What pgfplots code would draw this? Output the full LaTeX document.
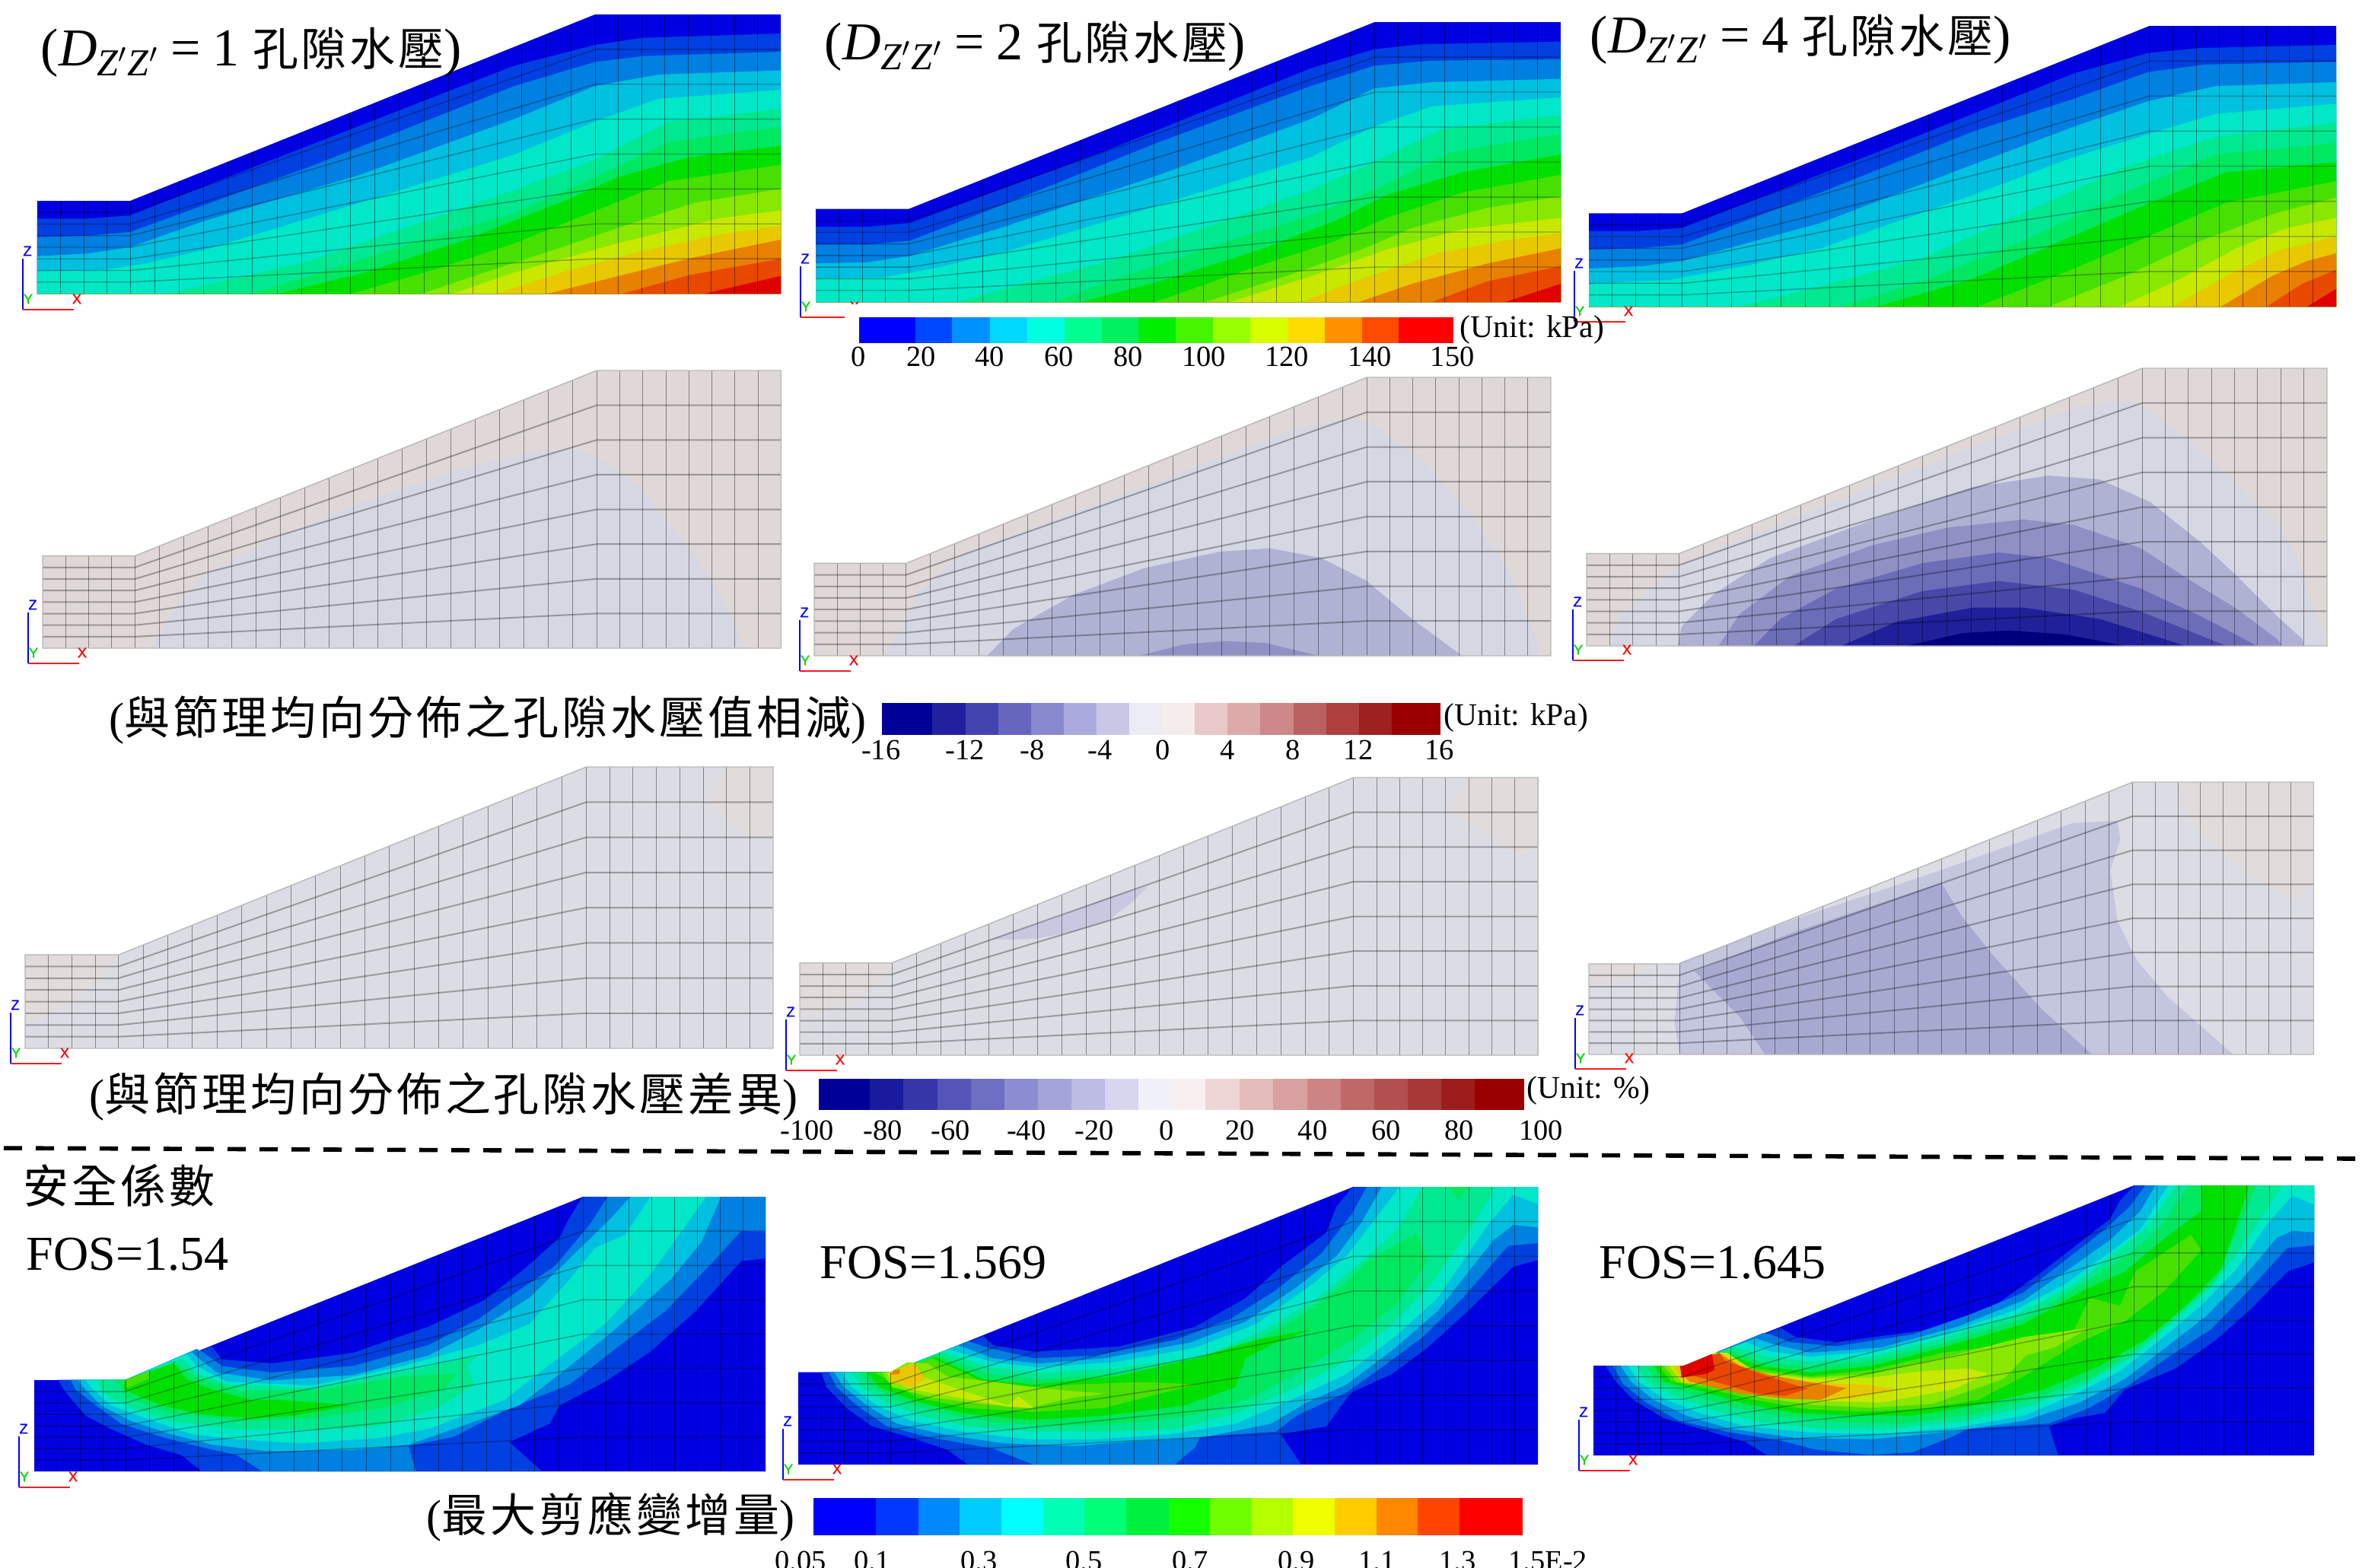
\documentclass[border=0pt]{standalone}
\usepackage{fontspec}
\usepackage{pgfplots}
\pgfplotsset{compat=1.18}
\setmainfont{Liberation Serif}
\newfontfamily\cjk{Noto Sans CJK TC}[LetterSpace=6.5]
\newfontfamily\triadfont{Liberation Sans}[FakeBold=1]
\newcommand\fs[1]{\fontsize{#1}{#1}\selectfont}
\newcommand\ttl[1]{{\fs{17.5}(\textit{D}\raisebox{-3.2pt}{\fs{12.5}\textit{Z}$'$\textit{Z}$'$}\hspace{4pt}=\hspace{4pt}#1{\cjk\fs{15} 孔隙水壓})}}
% band colours of the contour panels
\definecolor{c0}{HTML}{0000E0}\definecolor{c1}{HTML}{0040E0}\definecolor{c2}{HTML}{0080E0}
\definecolor{c3}{HTML}{00C0E0}\definecolor{c4}{HTML}{00E8C8}\definecolor{c5}{HTML}{00E890}
\definecolor{c6}{HTML}{00E860}\definecolor{c7}{HTML}{00E000}\definecolor{c8}{HTML}{48E000}
\definecolor{c9}{HTML}{88E800}\definecolor{c10}{HTML}{C8E800}\definecolor{c11}{HTML}{E8C800}
\definecolor{c12}{HTML}{E88000}\definecolor{c13}{HTML}{E84800}\definecolor{c14}{HTML}{E00000}
\definecolor{beige}{HTML}{E0D7D7}\definecolor{t1}{HTML}{D5D7E3}\definecolor{t2}{HTML}{B0B2D3}
\definecolor{t3}{HTML}{9090C4}\definecolor{t4}{HTML}{6C6DB8}\definecolor{t5}{HTML}{4848A8}
\definecolor{t6}{HTML}{20209A}\definecolor{t7}{HTML}{00007F}\definecolor{g0}{HTML}{DCDDE4}
\definecolor{g1}{HTML}{C4C6DE}\definecolor{g2}{HTML}{A8A9D0}\definecolor{g3}{HTML}{C8C9E0}
\definecolor{bl}{HTML}{E1DBDB}
\pgfplotstableread{
x y
0 15.25
122 15.25
733 45.9
977 45.9
nan nan
0 30.5
122 30.5
733 91.75
977 91.75
nan nan
0 45.75
122 45.75
733 137.6
977 137.6
nan nan
0 61
122 61
733 183.5
977 183.5
nan nan
0 76.25
122 76.25
733 229.4
977 229.4
nan nan
0 91.5
122 91.5
733 275.25
977 275.25
nan nan
0 106.75
122 106.75
733 321.1
977 321.1
}\meshH
\pgfplotstableread{
x y
30.5 0
30.5 122
nan nan
61 0
61 122
nan nan
91.5 0
91.5 122
nan nan
122 0
122 122
nan nan
154.2 0
154.2 134.9
nan nan
186.3 0
186.3 147.8
nan nan
218.5 0
218.5 160.7
nan nan
250.6 0
250.6 173.6
nan nan
282.8 0
282.8 186.5
nan nan
315 0
315 199.4
nan nan
347.1 0
347.1 212.3
nan nan
379.3 0
379.3 225.2
nan nan
411.4 0
411.4 238.1
nan nan
443.6 0
443.6 251
nan nan
475.8 0
475.8 263.9
nan nan
507.9 0
507.9 276.8
nan nan
540.1 0
540.1 289.7
nan nan
572.2 0
572.2 302.6
nan nan
604.4 0
604.4 315.5
nan nan
636.6 0
636.6 328.4
nan nan
668.7 0
668.7 341.3
nan nan
700.9 0
700.9 354.1
nan nan
733 0
733 367
nan nan
763.5 0
763.5 367
nan nan
794 0
794 367
nan nan
824.5 0
824.5 367
nan nan
855 0
855 367
nan nan
885.5 0
885.5 367
nan nan
916 0
916 367
nan nan
946.5 0
946.5 367
}\meshV
\newcommand\setpanel[8]{%
  \pgfmathsetmacro\pW{(#3-#1)*0.25}\pgfmathsetmacro\pH{(#4-#2)*0.25}%
  \pgfmathsetmacro\pX{#1*0.25}\pgfmathsetmacro\pY{-#2*0.25}%
  \def\zL{#5}\def\zR{#6}\def\zT{#7}\def\zB{#8}}
\pgfplotsset{
  box/.style={at={(\pX pt,\pY pt)},anchor=north west,scale only axis,width=\pW pt,height=\pH pt,clip=false},
  panel/.style={box,hide axis,xmin=\zL,xmax=\zR,ymin=\zT,ymax=\zB,y dir=reverse},
  model/.style={box,hide axis,xmin=0,xmax=977,ymin=0,ymax=367},
  cbar/.style={box,xmin=\zL,xmax=\zR,ymin=0,ymax=1,axis line style={draw=none},ymajorticks=false,
    major tick length=0pt,xtick style={draw=none},
    xticklabel style={font=\fs{9.6},inner sep=0pt,yshift=#1}},
}
\newcommand\basefill[1]{\begin{axis}[model]
  \addplot[fill=#1,draw=none] coordinates {(0,122)(122,122)(733,367)(977,367)(977,0)(0,0)} --cycle;
  \end{axis}}
\newcommand\meshover[2]{\begin{axis}[model,unbounded coords=jump]
  \addplot[black,opacity=#1,line width=.36pt] table {\meshH};
  \addplot[black,opacity=#2,line width=.2pt] table {\meshV};
  \end{axis}}
\newcommand\meshgrey{\begin{axis}[model,unbounded coords=jump]
  \addplot[black,opacity=.3,line width=.5pt] table {\meshH};
  \addplot[black,opacity=.4,line width=.22pt] table {\meshV};
  \addplot[black!28,line width=.35pt] coordinates {(0,122)(122,122)(733,367)(977,367)(977,0)(0,0)} --cycle;
  \end{axis}}
\newcommand\Cn[2]{\addplot[fill=#1,draw=none] coordinates {#2 (\zR,\zB)(\zL,\zB)} --cycle;}
\newcommand\Rg[2]{\addplot[fill=#1,draw=none] coordinates {#2} --cycle;}
\newcommand\Bar[3]{\definecolor{bar#3}{HTML}{#3}\addplot[fill=bar#3,draw=none] coordinates {(#1,0)(#2,0)(#2,1)(#1,1)} --cycle;}
\newcommand\triad[2]{%
  \addplot[blue,line width=.45pt] coordinates {(#1,#2-67) (#1,#2)};
  \addplot[red!90!white,line width=.55pt] coordinates {(#1,#2) (#1+67,#2)};
  \node[font=\triadfont\fs{4.6},text=blue] at (axis cs:#1+6,#2-77) {Z};
  \node[font=\triadfont\fs{4.6},text=green!85!black] at (axis cs:#1+7,#2-14) {Y};
  \node[font=\triadfont\fs{4.6},text=red] at (axis cs:#1+71,#2-14) {X};
}
\newcommand\overlaybox{\setpanel{0}{0}{3104}{2060}{0}{3104}{0}{2060}}
\begin{document}
\begin{tikzpicture}
\path[use as bounding box,clip] (0,0) rectangle (776pt,-515pt);
% ---------- row 1
\setpanel{49}{19}{1026}{386}{73}{1518}{58}{1158}
\basefill{c0}
\begin{axis}[panel]
\Cn{c1}{(73,862)(170,862)(253,850)(600,575)(1000,260)(1157,178)(1250,150)(1518,133)}
\Cn{c2}{(73,935)(170,930)(253,915)(600,660)(1000,340)(1157,245)(1250,222)(1518,205)}
\Cn{c3}{(73,1010)(170,1000)(253,975)(400,870)(700,690)(1000,470)(1157,340)(1280,295)(1518,278)}
\Cn{c4}{(73,1070)(200,1065)(280,1040)(400,985)(700,800)(1000,610)(1157,480)(1280,390)(1518,355)}
\Cn{c5}{(330,1158)(400,1125)(600,1030)(800,890)(1000,750)(1157,630)(1300,480)(1518,430)}
\Cn{c6}{(490,1158)(600,1090)(800,960)(1000,840)(1157,700)(1300,560)(1518,500)}
\Cn{c7}{(540,1158)(700,1080)(900,950)(1100,790)(1200,700)(1340,620)(1518,575)}
\Cn{c8}{(685,1158)(850,1060)(1000,960)(1160,830)(1300,715)(1518,650)}
\Cn{c9}{(820,1158)(950,1070)(1100,970)(1200,900)(1350,800)(1518,745)}
\Cn{c10}{(880,1158)(1000,1075)(1200,960)(1400,860)(1518,830)}
\Cn{c11}{(965,1158)(1100,1070)(1250,990)(1400,925)(1518,890)}
\Cn{c12}{(1065,1158)(1200,1090)(1350,1015)(1518,945)}
\Cn{c13}{(1210,1158)(1340,1085)(1518,1020)}
\Cn{c14}{(1370,1158)(1518,1088)}
\end{axis}
\meshover{.3}{.42}
\setpanel{1072}{29}{2051}{397}{18}{1495}{88}{1192}
\basefill{c0}
\begin{axis}[panel]
\Cn{c1}{(18,895)(120,895)(205,880)(600,590)(1000,270)(1125,195)(1220,175)(1495,165)}
\Cn{c2}{(18,965)(120,965)(205,950)(400,800)(700,560)(1000,340)(1125,260)(1240,240)(1495,235)}
\Cn{c3}{(18,1040)(120,1035)(205,1010)(400,890)(700,690)(1000,470)(1125,350)(1240,325)(1495,312)}
\Cn{c4}{(18,1100)(150,1095)(250,1060)(400,990)(700,810)(1000,620)(1125,500)(1240,420)(1495,385)}
\Cn{c5}{(300,1192)(400,1135)(600,1030)(800,890)(1000,750)(1125,640)(1260,510)(1495,455)}
\Cn{c6}{(490,1192)(600,1110)(800,975)(1000,850)(1125,750)(1280,600)(1495,530)}
\Cn{c7}{(545,1192)(700,1110)(900,985)(1050,870)(1150,770)(1300,680)(1495,610)}
\Cn{c8}{(690,1192)(880,1060)(1050,950)(1150,860)(1300,760)(1495,690)}
\Cn{c9}{(790,1192)(950,1090)(1100,985)(1200,900)(1350,820)(1495,775)}
\Cn{c10}{(840,1192)(1000,1090)(1150,985)(1300,905)(1495,860)}
\Cn{c11}{(980,1192)(1100,1100)(1250,1000)(1400,945)(1495,920)}
\Cn{c12}{(1095,1192)(1200,1120)(1350,1040)(1495,980)}
\Cn{c13}{(1240,1192)(1350,1110)(1495,1050)}
\Cn{c14}{(1385,1192)(1495,1120)}
\end{axis}
\meshover{.3}{.42}
\setpanel{2088}{34}{3070}{403}{42}{1517}{103}{1210}
\basefill{c0}
\begin{axis}[panel]
\Cn{c1}{(42,912)(140,912)(226,900)(600,610)(1000,290)(1146,210)(1250,190)(1517,178)}
\Cn{c2}{(42,985)(140,980)(226,965)(500,760)(800,520)(1000,390)(1146,285)(1260,255)(1517,245)}
\Cn{c3}{(42,1060)(150,1050)(226,1030)(500,880)(800,650)(1000,500)(1146,400)(1280,340)(1517,325)}
\Cn{c4}{(42,1120)(200,1105)(350,1050)(500,980)(800,770)(1000,620)(1146,530)(1280,450)(1517,410)}
\Cn{c5}{(340,1210)(500,1130)(700,1020)(900,840)(1100,660)(1280,540)(1517,485)}
\Cn{c6}{(540,1210)(700,1110)(900,950)(1100,760)(1280,610)(1517,565)}
\Cn{c7}{(610,1210)(800,1100)(1000,930)(1150,800)(1300,680)(1517,640)}
\Cn{c8}{(810,1210)(1000,1060)(1150,930)(1300,800)(1517,715)}
\Cn{c9}{(950,1210)(1100,1090)(1250,950)(1400,840)(1517,780)}
\Cn{c10}{(1090,1210)(1200,1110)(1320,980)(1420,900)(1517,860)}
\Cn{c11}{(1195,1210)(1300,1090)(1400,990)(1517,935)}
\Cn{c12}{(1290,1210)(1390,1090)(1460,1030)(1517,1000)}
\Cn{c13}{(1380,1210)(1450,1120)(1517,1065)}
\Cn{c14}{(1460,1210)(1517,1140)}
\end{axis}
\meshover{.3}{.42}
% ---------- row 2
\setpanel{56}{487}{1026.5}{852}{84}{1533}{50}{1145}
\basefill{beige}
\begin{axis}[panel]
\Rg{t1}{(297,1145)(340,1000)(400,860)(520,730)(700,580)(900,440)(1050,370)(1120,358)(1170,390)(1250,500)(1340,720)(1420,950)(1462,1145)}
\end{axis}
\meshgrey
\setpanel{1070}{496}{2038}{862}{45}{1506}{48}{1146}
\basefill{beige}
\begin{axis}[panel]
\Rg{t1}{(180,1146)(215,1060)(250,900)(330,760)(370,720)(700,480)(1000,250)(1100,215)(1150,230)(1250,370)(1350,600)(1420,800)(1460,1000)(1480,1100)(1480,1146)}
\Rg{t2}{(388,1146)(440,1040)(560,905)(700,800)(850,735)(950,722)(1050,760)(1140,850)(1230,1000)(1330,1146)}
\Rg{t3}{(690,1146)(780,1100)(860,1088)(940,1095)(1045,1146)}
\end{axis}
\meshgrey
\setpanel{2085}{484}{3058}{849}{38}{1498}{12}{1106}
\basefill{beige}
\begin{axis}[panel]
\Rg{t1}{(85,1106)(100,1000)(180,850)(220,790)(400,640)(700,400)(1000,170)(1085,138)(1130,155)(1220,290)(1300,430)(1400,620)(1440,760)(1470,950)(1490,1050)(1490,1106)}
\Rg{t2}{(218,1106)(225,1030)(290,900)(400,760)(600,610)(800,480)(950,435)(1050,450)(1150,540)(1250,700)(1320,830)(1400,990)(1450,1080)(1452,1106)}
\Rg{t3}{(298,1106)(340,980)(440,830)(600,710)(750,640)(900,608)(1000,630)(1130,720)(1230,850)(1320,960)(1400,1080)(1410,1106)}
\Rg{t4}{(368,1106)(420,1000)(530,880)(700,780)(850,738)(950,760)(1130,880)(1250,990)(1360,1106)}
\Rg{t5}{(446,1106)(530,1000)(700,890)(850,850)(1000,885)(1130,970)(1300,1106)}
\Rg{t6}{(540,1106)(650,1010)(800,955)(900,955)(1050,1000)(1220,1106)}
\Rg{t7}{(668,1106)(780,1055)(870,1045)(980,1060)(1100,1106)}
\end{axis}
\meshgrey
% ---------- row 3
\setpanel{33}{1008}{1016}{1378}{50}{1533}{82}{1157}
\basefill{g0}
\begin{axis}[panel]
\Rg{bl}{(50,797)(236,797)(200,900)(120,1000)(50,1060)}
\Rg{bl}{(1440,82)(1533,82)(1533,352)(1480,340)(1400,215)}
\end{axis}
\meshgrey
\setpanel{1051}{1022}{2021}{1387}{16}{749}{36}{1130}
\basefill{g0}
\begin{axis}[panel]
\Rg{bl}{(16,764)(108,764)(108,800)(95,850)(70,920)(16,985)}
\Rg{bl}{(680,36)(749,36)(749,310)(735,350)(700,270)(660,170)}
\Rg{g3}{(205,675)(270,590)(325,505)(362,465)(345,530)(322,600)(290,640)(250,672)}
\end{axis}
\meshgrey
\setpanel{2088}{1028}{3040.5}{1386}{800}{1520}{53}{1128}
\basefill{g0}
\begin{axis}[panel]
\Rg{bl}{(800,768)(868,768)(840,830)(800,860)}
\Rg{bl}{(1385,53)(1520,53)(1520,460)(1500,520)(1460,430)(1400,230)}
\Rg{g1}{(890,1128)(885,1000)(890,790)(890,765)(1000,600)(1150,400)(1280,215)(1325,205)(1328,280)(1318,400)(1325,600)(1345,760)(1375,900)(1440,1128)}
\Rg{g2}{(975,1128)(950,980)(920,860)(905,800)(1000,650)(1150,450)(1170,580)(1200,730)(1250,950)(1300,1128)}
\end{axis}
\meshgrey
% ---------- row 4
\setpanel{45}{1573}{1006}{1934}{68}{1518}{155}{1202}
\basefill{c0}
\begin{axis}[panel]
\Rg{c1}{(115,853)(130,900)(170,990)(220,1040)(290,1100)(360,1140)(400,1202)(1075,1202)(1010,1090)(1090,1020)(1110,950)(1200,860)(1290,745)(1380,590)(1470,400)(1518,390)(1518,155)(1155,155)(1125,250)(1110,310)(1040,430)(960,550)(850,650)(700,750)(540,790)(440,775)(420,725)(248,853)}
\Rg{c2}{(140,853)(150,890)(190,950)(240,1020)(320,1070)(400,1110)(470,1140)(520,1202)(825,1202)(810,1105)(900,1070)(1000,970)(1130,870)(1230,720)(1320,590)(1420,390)(1470,285)(1518,290)(1518,155)(1205,155)(1170,260)(1100,420)(1030,510)(950,620)(850,720)(700,800)(540,825)(440,800)(400,745)(390,735)(248,853)}
\Rg{c3}{(155,853)(165,880)(200,950)(260,1010)(340,1060)(420,1100)(530,1125)(700,1120)(810,1100)(900,1040)(1030,950)(1130,800)(1220,660)(1330,470)(1390,330)(1430,155)(1250,155)(1210,240)(1130,390)(1050,540)(950,660)(850,760)(700,835)(540,855)(430,825)(390,765)(380,745)(248,853)}
\Rg{c4}{(170,853)(180,880)(220,950)(290,1000)(380,1060)(470,1080)(600,1095)(750,1075)(850,1040)(1000,930)(1100,780)(1200,640)(1290,450)(1350,290)(1400,155)(1290,155)(1240,300)(1180,350)(1130,470)(1050,640)(950,720)(800,800)(620,875)(450,860)(390,800)(370,755)(248,853)}
\Rg{c5}{(190,853)(210,910)(260,960)(340,1010)(460,1040)(620,1045)(750,1030)(870,960)(940,870)(925,800)(950,760)(820,815)(620,885)(450,870)(390,830)(362,772)(248,853)}
\Rg{c6}{(230,853)(250,920)(340,980)(470,1010)(620,1000)(760,960)(880,890)(905,830)(800,840)(640,890)(480,895)(390,845)(345,785)(248,853)}
\Rg{c7}{(248,853)(245,890)(320,950)(400,985)(500,1000)(580,990)(700,950)(560,930)(500,930)(420,890)(370,850)(345,790)}
\Rg{c8}{(248,853)(250,885)(295,850)(298,820)}
\end{axis}
\meshover{.3}{.42}
\setpanel{1049}{1560}{2021}{1925}{14}{1479}{115}{1176}
\basefill{c0}
\begin{axis}[panel]
\Rg{c1}{(60,823)(70,880)(110,960)(160,1030)(240,1075)(310,1120)(350,1176)(1010,1176)(970,1060)(1060,1030)(1090,950)(1110,900)(1190,830)(1260,730)(1340,590)(1430,420)(1479,395)(1479,115)(1112,115)(1080,190)(1060,290)(970,420)(900,540)(800,650)(650,725)(480,745)(400,720)(380,685)(196,823)}
\Rg{c2}{(75,823)(90,880)(130,950)(190,1030)(270,1070)(400,1115)(480,1176)(760,1176)(800,1110)(810,1070)(960,1050)(1000,990)(1100,900)(1180,790)(1250,690)(1330,540)(1420,340)(1479,330)(1479,115)(1140,115)(1110,220)(1050,370)(960,510)(870,620)(760,700)(600,760)(480,770)(390,730)(350,705)(196,823)}
\Rg{c3}{(85,823)(105,880)(150,950)(210,1020)(300,1060)(420,1095)(560,1105)(700,1085)(820,1070)(950,1020)(1020,940)(1100,870)(1190,740)(1280,590)(1390,320)(1430,260)(1479,270)(1479,115)(1170,115)(1130,250)(1080,380)(1000,500)(900,630)(790,710)(620,770)(490,790)(400,770)(330,720)(196,823)}
\Rg{c4}{(100,823)(120,880)(170,950)(240,1010)(340,1050)(470,1080)(600,1080)(750,1060)(880,1020)(1000,920)(1100,830)(1200,680)(1280,540)(1380,260)(1430,145)(1479,180)(1479,115)(1205,115)(1160,230)(1100,380)(1030,490)(920,640)(800,730)(640,785)(490,805)(400,785)(310,735)(196,823)}
\Rg{c5}{(120,823)(140,880)(190,940)(260,990)(350,1030)(480,1050)(620,1050)(760,1040)(880,980)(990,890)(1090,790)(1190,640)(1270,480)(1340,290)(1395,115)(1250,115)(1200,280)(1130,400)(1050,530)(940,660)(820,760)(640,810)(490,825)(390,805)(300,745)(196,823)}
\Rg{c6}{(1298,115)(1342,115)(1322,165)}
\Rg{c6}{(135,823)(160,880)(210,930)(300,980)(400,1015)(530,1030)(660,1020)(790,990)(900,930)(1000,830)(1110,700)(1200,560)(1260,400)(1240,290)(1140,400)(1100,480)(1000,620)(900,720)(780,790)(640,830)(490,850)(390,830)(290,755)(196,823)}
\Rg{c7}{(150,823)(175,880)(240,930)(340,980)(470,1005)(620,990)(780,950)(880,880)(900,770)(960,710)(1030,660)(920,700)(800,770)(640,840)(480,870)(380,850)(285,765)(196,823)}
\Rg{c8}{(165,823)(196,860)(250,920)(350,960)(480,975)(620,960)(800,870)(700,860)(560,870)(480,880)(380,860)(280,770)(196,823)}
\Rg{c9}{(180,823)(200,880)(280,920)(380,945)(470,960)(560,920)(620,905)(500,885)(400,860)(310,840)(270,790)(230,785)(196,823)}
\Rg{c10}{(190,823)(195,850)(240,890)(330,920)(430,955)(480,960)(450,915)(430,950)(350,900)(260,840)(240,790)(196,823)}
\Rg{c11}{(196,823)(196,860)(240,880)(265,850)(245,790)}
\Rg{c12}{(196,832)(215,830)(215,812)(205,815)}
\end{axis}
\meshover{.3}{.42}
\setpanel{2094}{1558}{3041}{1913}{51}{1473}{111}{1142}
\basefill{c0}
\begin{axis}[panel]
\Rg{c1}{(75,800)(95,860)(130,930)(190,1000)(270,1045)(350,1090)(395,1142)(968,1142)(950,1030)(1000,1000)(1060,980)(1100,890)(1200,810)(1280,700)(1350,580)(1420,440)(1473,405)(1473,111)(1118,111)(1090,170)(1070,240)(1010,330)(930,450)(850,560)(720,660)(530,710)(450,690)(420,655)(229,800)}
\Rg{c2}{(90,800)(110,870)(155,940)(220,1010)(310,1050)(420,1085)(490,1120)(600,1140)(680,1130)(760,1070)(790,1040)(950,1020)(1030,960)(1110,870)(1190,760)(1270,660)(1340,520)(1420,350)(1473,340)(1473,111)(1140,111)(1110,190)(1060,280)(980,400)(900,520)(800,600)(680,680)(530,725)(440,710)(400,680)(385,675)(229,800)}
\Rg{c3}{(105,800)(125,860)(170,930)(235,990)(320,1040)(450,1075)(600,1080)(760,1050)(900,1010)(1010,940)(1100,850)(1180,730)(1260,610)(1330,470)(1400,310)(1430,285)(1473,290)(1473,111)(1160,111)(1130,210)(1070,320)(990,430)(900,550)(770,650)(620,730)(480,750)(410,720)(370,695)(229,800)}
\Rg{c4}{(120,800)(140,860)(190,925)(260,980)(350,1030)(480,1055)(620,1060)(770,1035)(900,990)(1000,910)(1090,820)(1170,700)(1250,570)(1320,430)(1380,260)(1430,150)(1473,185)(1473,111)(1185,111)(1130,280)(1060,380)(980,490)(880,590)(740,680)(600,745)(480,765)(400,745)(350,710)(229,800)}
\Rg{c5}{(138,800)(155,860)(210,915)(290,970)(380,1015)(500,1040)(640,1040)(790,1010)(920,950)(1020,870)(1110,770)(1190,640)(1270,500)(1340,320)(1410,111)(1200,111)(1150,260)(1080,370)(1000,490)(880,610)(730,700)(600,765)(480,785)(390,765)(330,725)(229,800)}
\Rg{c6}{(155,800)(175,860)(235,905)(320,955)(420,995)(540,1015)(660,1020)(800,985)(930,920)(1040,840)(1120,740)(1200,610)(1280,470)(1360,111)(1225,111)(1170,270)(1110,370)(1030,470)(900,620)(740,715)(600,780)(480,805)(380,785)(320,740)(229,800)}
\Rg{c7}{(170,800)(190,860)(260,895)(350,945)(450,980)(560,990)(680,990)(810,950)(940,890)(1050,800)(1140,700)(1220,570)(1290,430)(1345,111)(1250,111)(1250,210)(1180,310)(1100,440)(1020,510)(900,640)(740,730)(600,800)(480,825)(380,800)(310,750)(229,800)}
\Rg{c8}{(180,800)(205,860)(270,885)(370,930)(470,965)(580,975)(700,965)(810,930)(900,840)(1000,720)(1100,630)(1180,510)(1250,360)(1230,300)(1120,440)(1090,570)(1030,540)(1000,660)(900,710)(740,750)(600,815)(480,840)(370,810)(305,760)(229,800)}
\Rg{c9}{(190,800)(215,860)(290,880)(390,925)(490,950)(600,960)(720,945)(860,850)(905,760)(960,730)(1030,655)(900,690)(740,770)(600,830)(480,845)(370,820)(310,770)(229,800)}
\Rg{c10}{(200,800)(225,860)(300,875)(410,915)(510,935)(620,940)(760,890)(830,830)(790,810)(700,820)(600,845)(480,850)(370,825)(315,750)(290,750)(229,800)}
\Rg{c11}{(210,800)(228,865)(310,880)(430,920)(560,925)(650,890)(600,875)(510,865)(430,855)(370,825)(300,750)(229,800)}
\Rg{c12}{(220,800)(228,830)(240,860)(340,905)(430,925)(500,930)(550,885)(470,860)(400,835)(340,800)(305,760)(285,755)(229,800)}
\Rg{c13}{(225,825)(290,860)(370,905)(430,915)(475,885)(460,880)(380,830)(310,780)(300,750)(229,800)}
\Rg{c14}{(225,845)(275,830)(290,815)(285,755)(229,800)(222,800)}
\end{axis}
\meshover{.3}{.42}
% ---------- the mask under the first colour bar, with the triad it cuts
\overlaybox
\begin{axis}[panel]
\triad{1052}{417}
\addplot[fill=white,draw=none] coordinates {(1110,400)(2060,400)(2060,490)(1110,490)} --cycle;
\end{axis}
% ---------- colour bars
\setpanel{1093}{417}{1955}{451}{50}{1350}{0}{1}
\begin{axis}[cbar=-1pt,xtick={103,227,363,500,637,788,952,1116,1280},xticklabels={0,20,40,60,80,100,120,140,150}]
\Bar{104}{216}{0000FF}\Bar{216}{289}{0048FF}\Bar{289}{363}{0090FF}\Bar{363}{437}{00D8FF}
\Bar{437}{511}{00FFE0}\Bar{511}{585}{00FF90}\Bar{585}{658}{00F060}\Bar{658}{732}{00EE00}
\Bar{732}{806}{46F500}\Bar{806}{880}{96FF00}\Bar{880}{953}{D7FF00}\Bar{953}{1027}{FFDC00}
\Bar{1027}{1101}{FF9100}\Bar{1101}{1174}{FF4B00}\Bar{1174}{1282}{FF0000}
\end{axis}
\setpanel{1106}{924}{1935}{966}{100}{1350}{0}{1}
\begin{axis}[cbar=-1.5pt,xtick={178,345,478,612,737,864,994,1124,1285},xticklabels={-16,-12,-8,-4,0,4,8,12,16}]
\Bar{180}{280}{000099}\Bar{280}{345}{22209F}\Bar{345}{410}{4444B0}\Bar{410}{475}{6666BF}
\Bar{475}{540}{8888CC}\Bar{540}{605}{AAAADD}\Bar{605}{670}{C8C8E6}\Bar{670}{735}{ECECF5}
\Bar{735}{800}{F5ECEC}\Bar{800}{865}{E8C8C8}\Bar{865}{930}{DDAAAA}\Bar{930}{995}{CC8888}
\Bar{995}{1060}{BB6060}\Bar{1060}{1125}{AE4040}\Bar{1125}{1190}{9E2020}\Bar{1190}{1287}{990000}
\end{axis}
\setpanel{1038}{1418}{2071}{1459}{50}{1400}{0}{1}
\begin{axis}[cbar=-3.2pt,xtick={80,210,326,456,573,697,823,948,1074,1199,1340},xticklabels={-100,-80,-60,-40,-20,0,20,40,60,80,100}]
\Bar{99}{187}{000099}\Bar{187}{245}{1A1A9E}\Bar{245}{303}{3636A8}\Bar{303}{361}{5555B8}
\Bar{361}{418}{6E6EC2}\Bar{418}{476}{8C8CD0}\Bar{476}{533}{A4A4DA}\Bar{533}{591}{BCBCE4}
\Bar{591}{649}{D6D6EE}\Bar{649}{707}{F0F0F8}\Bar{707}{764}{F8F0F0}\Bar{764}{822}{EED6D6}
\Bar{822}{880}{E4BCBC}\Bar{880}{938}{D8A0A0}\Bar{938}{996}{CC8484}\Bar{996}{1053}{BE6868}
\Bar{1053}{1111}{B25050}\Bar{1111}{1168}{A63838}\Bar{1168}{1226}{9C1C1C}\Bar{1226}{1311}{990000}
\end{axis}
\setpanel{1040}{1969}{2035}{2018}{0}{1500}{0}{1}
\begin{axis}[cbar=-5pt,xtick={18,160,372,580,790,1000,1160,1320,1499},xticklabels={0.05,0.1,0.3,0.5,0.7,0.9,1.1,1.3,1.5E-2}]
\Bar{44}{168}{0000FF}\Bar{168}{251}{0038FF}\Bar{251}{333}{0088FF}\Bar{333}{416}{00CCFF}
\Bar{416}{499}{00FFFF}\Bar{499}{581}{00FFB4}\Bar{581}{664}{00FF78}\Bar{664}{747}{00F040}
\Bar{747}{829}{14FF00}\Bar{829}{912}{70FF00}\Bar{912}{994}{B4FF00}\Bar{994}{1076}{F0FF00}
\Bar{1076}{1159}{FFCC00}\Bar{1159}{1241}{FF8800}\Bar{1241}{1324}{FF4400}\Bar{1324}{1448}{FF0000}
\end{axis}
% ---------- triads, text, divider
\overlaybox
\begin{axis}[panel]
\triad{30}{407}\triad{2069}{423}
\triad{37}{872}\triad{1051}{882}\triad{2067}{868}
\triad{14}{1398}\triad{1033}{1407}\triad{2070}{1405}
\triad{25}{1955}\triad{1029}{1945}\triad{2075}{1933}
\addplot[black,line width=1.4pt,dash pattern=on 6pt off 4.5pt] coordinates {(5,1509)(3104,1523)};
\node[anchor=west,inner sep=0pt] at (axis cs:53,69) {\ttl{1}};
\node[anchor=west,inner sep=0pt] at (axis cs:1083,61) {\ttl{2}};
\node[anchor=west,inner sep=0pt] at (axis cs:2089,52) {\ttl{4}};
\node[anchor=west,inner sep=0pt,font=\fs{10.4}] at (axis cs:1918,433) {(Unit: kPa)};
\node[anchor=west,inner sep=0pt,font=\fs{10.4}] at (axis cs:1897,943) {(Unit: kPa)};
\node[anchor=west,inner sep=0pt,font=\fs{10.4}] at (axis cs:2006,1433) {(Unit: \%)};
\node[anchor=west,inner sep=0pt,font=\fs{15}] at (axis cs:143,946) {({\cjk 與節理均向分佈之孔隙水壓值相減})};
\node[anchor=west,inner sep=0pt,font=\fs{15}] at (axis cs:117,1441) {({\cjk 與節理均向分佈之孔隙水壓差異})};
\node[anchor=west,inner sep=0pt,font=\fs{15}] at (axis cs:30,1558) {{\cjk 安全係數}};
\node[anchor=west,inner sep=0pt,font=\fs{16}] at (axis cs:34,1649) {FOS=1.54};
\node[anchor=west,inner sep=0pt,font=\fs{16}] at (axis cs:1077,1660) {FOS=1.569};
\node[anchor=west,inner sep=0pt,font=\fs{16}] at (axis cs:2101,1660) {FOS=1.645};
\node[anchor=west,inner sep=0pt,font=\fs{15}] at (axis cs:560,1994) {({\cjk 最大剪應變增量})};
\end{axis}
\end{tikzpicture}
\end{document}
